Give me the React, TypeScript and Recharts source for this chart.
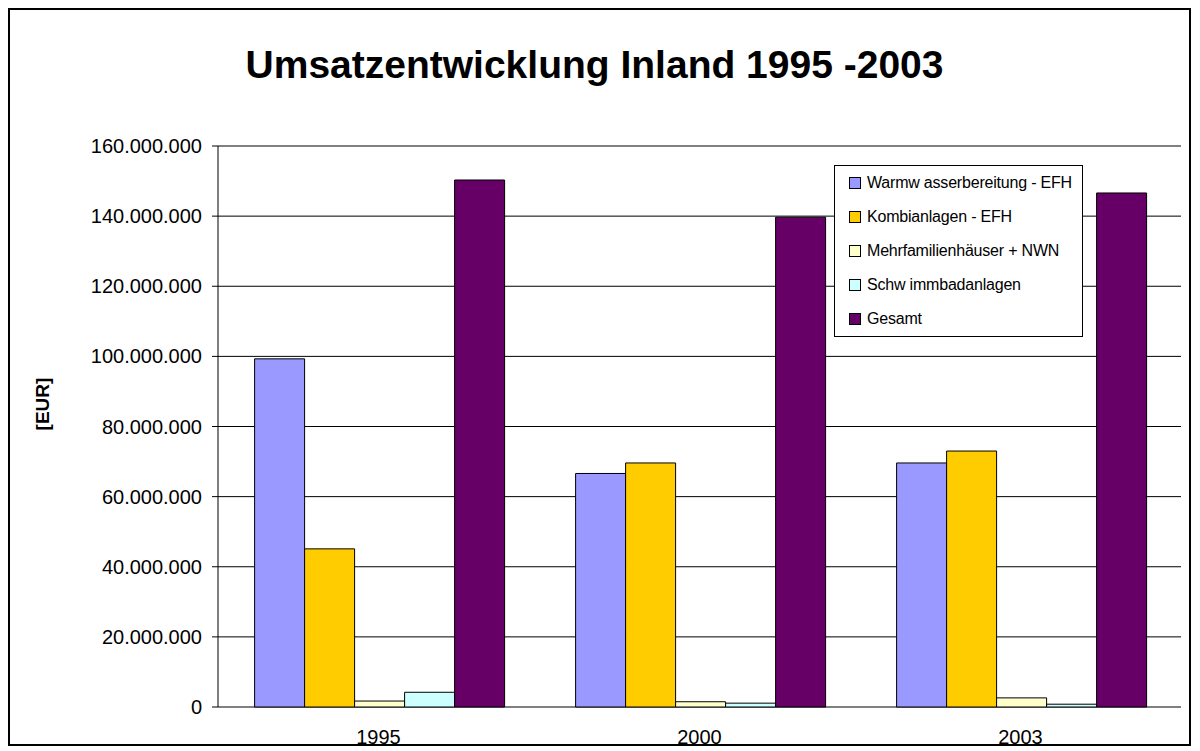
import { BarChart, Bar, XAxis, YAxis, CartesianGrid, Legend, ReferenceLine } from 'recharts';

const years = ['1995', '2000', '2003'];
const warmwasser = [99300000, 66600000, 69600000];
const kombi = [45100000, 69600000, 73000000];
const mehrfamilien = [1700000, 1500000, 2600000];
const schwimmbad = [4200000, 1100000, 800000];
const gesamt = [150300000, 139700000, 146600000];
const yTicks = [0, 20000000, 40000000, 60000000, 80000000, 100000000, 120000000, 140000000, 160000000];
const boundaryTicks = [0, 1, 2, 3];

const series = [
  { key: 'warm', name: 'Warmw asserbereitung - EFH', color: '#9999FF' },
  { key: 'kombi', name: 'Kombianlagen - EFH', color: '#FFCC00' },
  { key: 'mfh', name: 'Mehrfamilienhäuser + NWN', color: '#FFFFCC' },
  { key: 'schwimm', name: 'Schw immbadanlagen', color: '#CCFFFF' },
  { key: 'gesamt', name: 'Gesamt', color: '#660066' },
];

const data = years.map((y, i) => ({
  year: y,
  warm: warmwasser[i],
  kombi: kombi[i],
  mfh: mehrfamilien[i],
  schwimm: schwimmbad[i],
  gesamt: gesamt[i],
}));

const FONT = '"Liberation Sans", Arial, sans-serif';

const fmt = (v: number) => String(v).replace(/\B(?=(\d{3})+(?!\d))/g, '.');

const order = (name: string) => series.findIndex(s => s.name === name);

const LegendBox = ({ payload }: any) => {
  const items = [...(payload || [])].sort((a: any, b: any) => order(a.value) - order(b.value));
  return (
    <div
      style={{
        width: 249,
        boxSizing: 'border-box',
        border: '1px solid #000',
        background: '#fff',
        fontFamily: FONT,
        fontSize: 16,
        color: '#000',
      }}
    >
      {items.map((entry: any) => (
        <div key={entry.value} style={{ height: 34, display: 'flex', alignItems: 'center', paddingLeft: 14 }}>
          <span
            style={{
              display: 'inline-block',
              width: 10,
              height: 10,
              border: '1px solid #000',
              background: entry.color,
              marginRight: 6,
            }}
          />
          <span style={{ letterSpacing: -0.2, whiteSpace: 'nowrap' }}>{entry.value}</span>
        </div>
      ))}
    </div>
  );
};

export default function App() {
  return (
    <div
      style={{
        position: 'relative',
        boxSizing: 'border-box',
        width: 1183,
        height: 738,
        border: '2px solid #000',
        background: '#fff',
        fontFamily: FONT,
      }}
    >
      <div
        style={{
          position: 'absolute',
          left: 0,
          top: 35,
          width: 1169,
          textAlign: 'center',
          fontSize: 39,
          lineHeight: '40px',
          fontWeight: 'bold',
          color: '#000',
        }}
      >
        Umsatzentwicklung Inland 1995 -2003
      </div>
      <div
        style={{
          position: 'absolute',
          left: -17,
          top: 384,
          width: 100,
          height: 20,
          lineHeight: '20px',
          textAlign: 'center',
          fontSize: 19,
          fontWeight: 'bold',
          transform: 'rotate(-90deg)',
          color: '#000',
        }}
      >
        [EUR]
      </div>
      <BarChart
        width={1179}
        height={739}
        data={data}
        margin={{ top: 136, right: 8, bottom: 0, left: 0 }}
        barCategoryGap="11.4%"
        barGap={0}
        style={{ overflow: 'visible' }}
      >
        <CartesianGrid vertical={false} stroke="#000" strokeWidth={1} />
        <XAxis
          xAxisId="b"
          type="number"
          domain={[0, 3]}
          ticks={boundaryTicks}
          height={0}
          tickSize={6}
          tick={() => <g />}
          tickLine={{ stroke: '#000' }}
          axisLine={{ stroke: '#000' }}
        />
        <XAxis
          xAxisId="cat"
          dataKey="year"
          height={42}
          tickSize={6}
          tickMargin={17}
          tickLine={false}
          axisLine={false}
          tick={{ fill: '#000', fontSize: 20, fontFamily: FONT }}
        />
        <YAxis
          width={208}
          domain={[0, 160000000]}
          ticks={yTicks}
          tickFormatter={fmt}
          tickSize={6}
          tickMargin={10}
          tick={{ fill: '#000', fontSize: 20, fontFamily: FONT }}
          tickLine={{ stroke: '#000' }}
          axisLine={{ stroke: '#000' }}
        />
        <ReferenceLine y={160000000} xAxisId="b" stroke="#808080" strokeWidth={1.5} />
        <ReferenceLine x={3} xAxisId="b" stroke="#808080" strokeWidth={1.5} />
        <Legend
          layout="vertical"
          align="center"
          verticalAlign="middle"
          content={<LegendBox />}
          wrapperStyle={{ position: 'absolute', left: 824, top: 155, width: 249 }}
        />
        {series.map(s => (
          <Bar
            key={s.key}
            xAxisId="cat"
            dataKey={s.key}
            name={s.name}
            fill={s.color}
            stroke="#000"
            strokeWidth={1}
            isAnimationActive={false}
          />
        ))}
      </BarChart>
    </div>
  );
}
